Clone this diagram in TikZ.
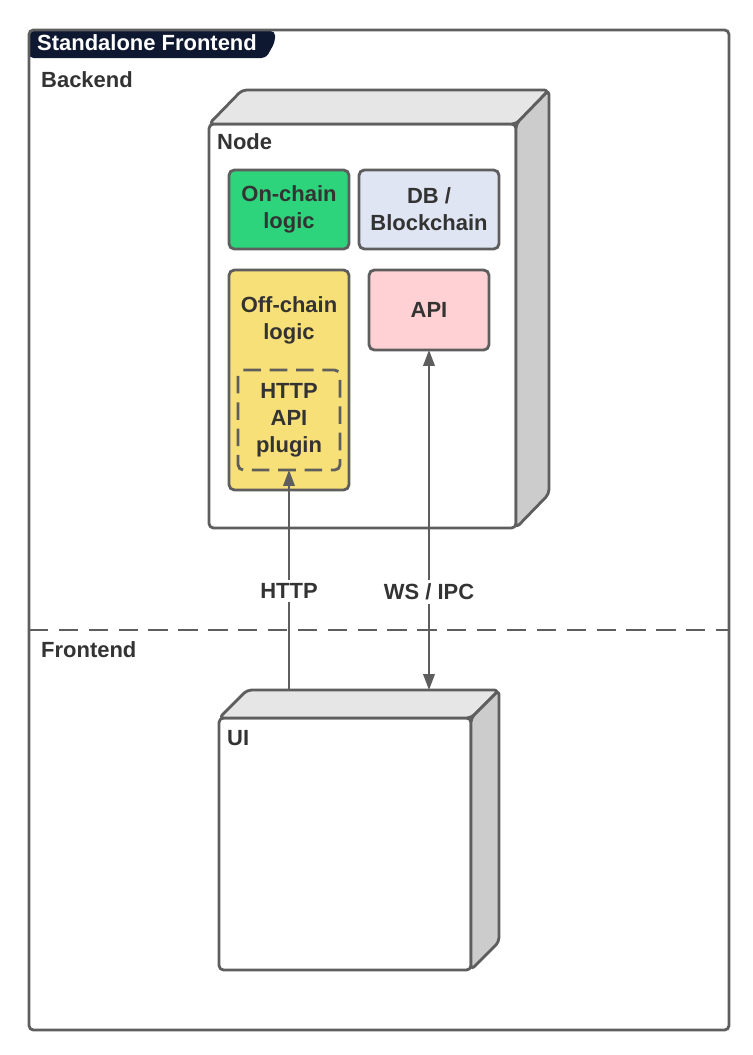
\documentclass[tikz,border=0pt]{standalone}
\usepackage{fontspec}
\setmainfont{Liberation Sans}
\usetikzlibrary{arrows.meta, positioning}
\definecolor{linegray}{RGB}{94, 94, 94}
\definecolor{textgray}{RGB}{51, 51, 51}
\definecolor{titlefill}{RGB}{14, 24, 48}
\definecolor{topfill}{RGB}{230, 230, 230}
\definecolor{sidefill}{RGB}{204, 204, 204}
\definecolor{chainfill}{RGB}{45, 212, 123}
\definecolor{dbfill}{RGB}{223, 229, 242}
\definecolor{offfill}{RGB}{248, 224, 120}
\definecolor{apifill}{RGB}{255, 209, 212}
\tikzset{
    every node/.style={font=\fontsize{12.5}{15.3}\selectfont\bfseries,
        text=textgray},
    face/.style={draw=linegray, line width=1.6pt, rounded corners=2.5pt,
        line join=round},
    front/.style={face, fill=white, inner sep=0pt, outer sep=0pt},
    part/.style={draw=linegray, line width=1.6pt, rounded corners=3pt,
        align=center, inner sep=0pt, outer sep=0pt},
    link/.style={draw=linegray, line width=1.1pt},
    tip/.tip={Triangle[length=9pt, width=6.5pt]},
}

\begin{document}
\begin{tikzpicture}[x=0.02cm, y=-0.02cm]
        \useasboundingbox (0, 0) rectangle (753, 1055);

        % outer frame with its title tab
        \fill[titlefill, rounded corners=2.5pt] (29, 58) -- (29, 31)
            -- (275, 31) -- (275, 42) -- (266, 58) -- cycle;
        \draw[face] (29, 30) rectangle (729, 1030);
        \node[anchor=west, text=white] (title) at (31, 43)
            {Standalone Frontend};
        \node[anchor=west] (backend) at (35, 80) {Backend};
        \node[anchor=west] (frontend) at (35, 650) {Frontend};
        \draw[link, line width=1.6pt, dash pattern=on 11pt off 6pt]
            (29, 630) -- (729, 630);

        % the node block
        \node[front, minimum width=6.14cm, minimum height=8.08cm]
            (nodebox) at (362.5, 326) {};
        \draw[face, fill=topfill] (nodebox.north west) -- ++(33, -34)
            -- ([shift={(33, -34)}]nodebox.north east)
            -- (nodebox.north east) -- cycle;
        \draw[face, fill=sidefill] (nodebox.north east) -- ++(33, -34)
            -- ([shift={(33, -34)}]nodebox.south east)
            -- (nodebox.south east) -- cycle;
        \node[anchor=west] (nodelabel) at (211, 142) {Node};

        \node[part, fill=chainfill, minimum width=2.4cm, minimum height=1.58cm]
            (onchain) at (289, 209.5) {On-chain\\logic};
        \node[part, fill=dbfill, minimum width=2.8cm, minimum height=1.58cm]
            (db) at (429, 209.5) {DB /\\Blockchain\vphantom{/}};
        \node[part, fill=offfill, minimum width=2.4cm, minimum height=4.4cm]
            (offchain) at (289, 380) {};
        \node[align=center] (offlabel) at (289, 320) {Off-chain\\logic};
        \node[part, dash pattern=on 10pt off 5pt, dash phase=3pt,
            minimum width=2.04cm, minimum height=2cm]
            (plugin) at (289, 420) {HTTP\\API\\plugin};
        \node[part, fill=apifill, minimum width=2.4cm, minimum height=1.6cm]
            (api) at (429, 310) {API};

        % the ui block
        \node[front, minimum width=5.04cm, minimum height=5.04cm]
            (uibox) at (345, 844) {};
        \draw[face, fill=topfill] (uibox.north west) -- ++(28, -28)
            -- ([shift={(28, -28)}]uibox.north east)
            -- (uibox.north east) -- cycle;
        \draw[face, fill=sidefill] (uibox.north east) -- ++(28, -28)
            -- ([shift={(28, -28)}]uibox.south east)
            -- (uibox.south east) -- cycle;
        \node[anchor=west] (uilabel) at (221, 738) {UI};

        % connections
        \coordinate (httpfoot) at (289, 690);
        \coordinate (wsfoot) at (429, 690);
        \draw[link, -tip] (httpfoot) -- (plugin.south);
        \draw[link, tip-tip] (api.south) -- (wsfoot);
        \node[fill=white, inner sep=2pt] (httplabel) at (289, 591) {HTTP};
        \node[fill=white, inner sep=2pt] (wslabel) at (429, 592) {WS / IPC};
    \end{tikzpicture}
\end{document}
